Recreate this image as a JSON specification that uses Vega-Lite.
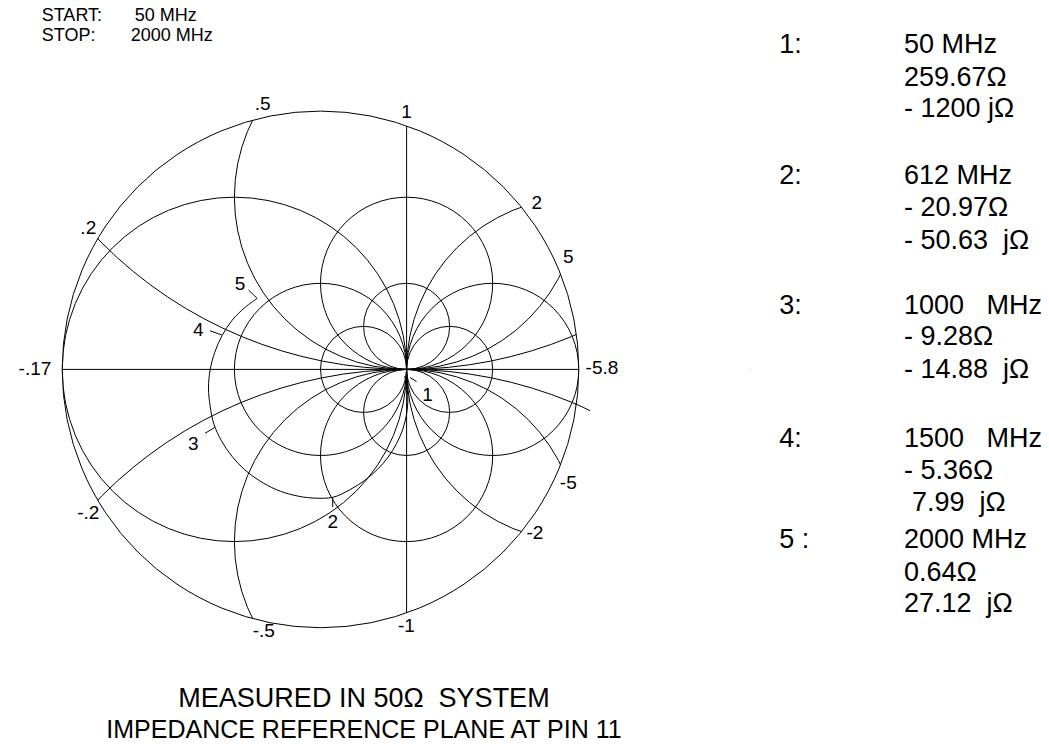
{
  "$schema": "https://vega.github.io/schema/vega-lite/v6.json",
  "width": 1049,
  "height": 744,
  "padding": 0,
  "autosize": {"type": "none"},
  "config": {"view": {"stroke": null}, "font": "Liberation Sans"},
  "datasets": {
    "grid": [
      {"cx": 0.5, "cy": 0, "r": 0.5},
      {"cx": 0, "cy": 0, "r": 1},
      {"cx": -1, "cy": 0, "r": 2},
      {"cx": 1.5, "cy": 0, "r": 0.5},
      {"cx": 2, "cy": 0, "r": 1},
      {"cx": 3, "cy": 0, "r": 2},
      {"cx": 1, "cy": 0.5, "r": 0.5},
      {"cx": 1, "cy": 1, "r": 1},
      {"cx": 1, "cy": 2, "r": 2},
      {"cx": 1, "cy": 5, "r": 5},
      {"cx": 1, "cy": -0.5, "r": 0.5},
      {"cx": 1, "cy": -1, "r": 1},
      {"cx": 1, "cy": -2, "r": 2},
      {"cx": 1, "cy": -5, "r": 5}
    ],
    "axes": [
      {"x1": -3, "y1": 0, "x2": 3, "y2": 0},
      {"x1": 1, "y1": -2.828, "x2": 1, "y2": 2.828}
    ],
    "trace": [
      {"seq": 0, "x": 0.977, "y": -0.077},
      {"seq": 1, "x": 1.007, "y": -0.223},
      {"seq": 2, "x": 1.014, "y": -0.378},
      {"seq": 3, "x": 0.996, "y": -0.540},
      {"seq": 4, "x": 0.953, "y": -0.703},
      {"seq": 5, "x": 0.882, "y": -0.864},
      {"seq": 6, "x": 0.785, "y": -1.019},
      {"seq": 7, "x": 0.661, "y": -1.162},
      {"seq": 8, "x": 0.512, "y": -1.290},
      {"seq": 9, "x": 0.340, "y": -1.398},
      {"seq": 10, "x": 0.148, "y": -1.484},
      {"seq": 11, "x": -0.087, "y": -1.494},
      {"seq": 12, "x": -0.307, "y": -1.462},
      {"seq": 13, "x": -0.516, "y": -1.395},
      {"seq": 14, "x": -0.708, "y": -1.293},
      {"seq": 15, "x": -0.883, "y": -1.164},
      {"seq": 16, "x": -1.030, "y": -1.007},
      {"seq": 17, "x": -1.150, "y": -0.830},
      {"seq": 18, "x": -1.238, "y": -0.635},
      {"seq": 19, "x": -1.282, "y": -0.426},
      {"seq": 20, "x": -1.301, "y": -0.216},
      {"seq": 21, "x": -1.282, "y": -0.006},
      {"seq": 22, "x": -1.228, "y": 0.199},
      {"seq": 23, "x": -1.143, "y": 0.394},
      {"seq": 24, "x": -1.026, "y": 0.571},
      {"seq": 25, "x": -0.875, "y": 0.722},
      {"seq": 26, "x": -0.736, "y": 0.823}
    ],
    "ext": [
      {"seq": 0, "x": 2.96, "y": -0.40},
      {"seq": 1, "x": 3.05, "y": -0.44},
      {"seq": 2, "x": 3.13, "y": -0.48}
    ],
    "ticks": [
      {"x1": 1.039, "y1": -0.094, "x2": 1.115, "y2": -0.141},
      {"x1": 0.142, "y1": -1.488, "x2": 0.142, "y2": -1.598},
      {"x1": -1.225, "y1": -0.672, "x2": -1.341, "y2": -0.742},
      {"x1": -1.148, "y1": 0.400, "x2": -1.283, "y2": 0.449},
      {"x1": -0.737, "y1": 0.826, "x2": -0.836, "y2": 0.922}
    ],
    "labels": [
      {"x": -0.671, "y": 3.082, "t": ".5"},
      {"x": 0.999, "y": 2.993, "t": "1"},
      {"x": -2.697, "y": 1.639, "t": ".2"},
      {"x": 2.511, "y": 1.929, "t": "2"},
      {"x": 2.878, "y": 1.309, "t": "5"},
      {"x": 3.269, "y": 0.013, "t": "-5.8"},
      {"x": -3.316, "y": 0.005, "t": "-.17"},
      {"x": -2.697, "y": -1.664, "t": "-.2"},
      {"x": -0.659, "y": -3.040, "t": "-.5"},
      {"x": 0.997, "y": -2.984, "t": "-1"},
      {"x": 2.491, "y": -1.904, "t": "-2"},
      {"x": 2.878, "y": -1.316, "t": "-5"},
      {"x": 1.243, "y": -0.297, "t": "1"},
      {"x": 0.142, "y": -1.772, "t": "2"},
      {"x": -1.477, "y": -0.866, "t": "3"},
      {"x": -1.419, "y": 0.458, "t": "4"},
      {"x": -0.935, "y": 0.992, "t": "5"}
    ],
    "side": [
      {"x": 5.329, "y": 3.669, "t": "1:"},
      {"x": 6.777, "y": 3.669, "t": "50 MHz"},
      {"x": 6.777, "y": 3.286, "t": "259.67Ω"},
      {"x": 6.777, "y": 2.926, "t": "- 1200 jΩ"},
      {"x": 5.329, "y": 2.153, "t": "2:"},
      {"x": 6.777, "y": 2.153, "t": "612 MHz"},
      {"x": 6.777, "y": 1.776, "t": "- 20.97Ω"},
      {"x": 6.777, "y": 1.393, "t": "- 50.63\u00a0\u00a0jΩ"},
      {"x": 5.329, "y": 0.643, "t": "3:"},
      {"x": 6.777, "y": 0.643, "t": "1000\u00a0\u00a0\u00a0MHz"},
      {"x": 6.777, "y": 0.278, "t": "- 9.28Ω"},
      {"x": 6.777, "y": -0.100, "t": "- 14.88\u00a0\u00a0jΩ"},
      {"x": 5.329, "y": -0.901, "t": "4:"},
      {"x": 6.777, "y": -0.901, "t": "1500\u00a0\u00a0\u00a0MHz"},
      {"x": 6.777, "y": -1.273, "t": "- 5.36Ω"},
      {"x": 6.870, "y": -1.645, "t": "7.99\u00a0\u00a0jΩ"},
      {"x": 5.329, "y": -2.080, "t": "5 :"},
      {"x": 6.777, "y": -2.080, "t": "2000 MHz"},
      {"x": 6.777, "y": -2.452, "t": "0.64Ω"},
      {"x": 6.777, "y": -2.823, "t": "27.12\u00a0\u00a0jΩ"}
    ],
    "head": [
      {"x": -3.238, "y": 4.050, "t": "START:"},
      {"x": -2.158, "y": 4.050, "t": "50 MHz"},
      {"x": -3.238, "y": 3.814, "t": "STOP:"},
      {"x": -2.204, "y": 3.814, "t": "2000 MHz"}
    ],
    "foot1": [
      {"x": 0.505, "y": -3.921, "t": "MEASURED IN 50Ω\u00a0\u00a0SYSTEM"}
    ],
    "foot2": [
      {"x": 0.505, "y": -4.281, "t": "IMPEDANCE REFERENCE PLANE AT PIN 11"}
    ]
  },
  "layer": [
    {
      "data": {"name": "grid"},
      "mark": {"type": "point", "shape": "circle", "filled": false, "stroke": "black", "strokeWidth": 1, "opacity": 1, "clip": true},
      "encoding": {
        "x": {"field": "cx", "type": "quantitative", "scale": {"domain": [-3.72242, 8.46109], "nice": false, "zero": false}, "axis": null},
        "y": {"field": "cy", "type": "quantitative", "scale": {"domain": [-4.35075, 4.29036], "nice": false, "zero": false}, "axis": null},
        "size": {"field": "r", "type": "quantitative", "scale": {"type": "pow", "exponent": 2, "domain": [0, 5], "range": [0, 741321]}, "legend": null}
      }
    },
    {
      "data": {"name": "axes"},
      "mark": {"type": "rule", "stroke": "black", "strokeWidth": 1},
      "encoding": {
        "x": {"field": "x1", "type": "quantitative"},
        "y": {"field": "y1", "type": "quantitative"},
        "x2": {"field": "x2"},
        "y2": {"field": "y2"}
      }
    },
    {
      "data": {"name": "trace"},
      "mark": {"type": "line", "interpolate": "catmull-rom", "stroke": "black", "strokeWidth": 1},
      "encoding": {
        "x": {"field": "x", "type": "quantitative"},
        "y": {"field": "y", "type": "quantitative"},
        "order": {"field": "seq", "type": "quantitative"}
      }
    },
    {
      "data": {"values": [{"cx": 0, "cy": 0}]},
      "mark": {"type": "point", "shape": "circle", "filled": false, "stroke": "white", "strokeWidth": 700, "size": 1480116, "opacity": 1, "clip": true},
      "encoding": {
        "x": {"field": "cx", "type": "quantitative"},
        "y": {"field": "cy", "type": "quantitative"}
      }
    },
    {
      "data": {"values": [{"cx": 0, "cy": 0, "r": 3}]},
      "mark": {"type": "point", "shape": "circle", "filled": false, "stroke": "black", "strokeWidth": 1, "opacity": 1, "clip": true},
      "encoding": {
        "x": {"field": "cx", "type": "quantitative"},
        "y": {"field": "cy", "type": "quantitative"},
        "size": {"field": "r", "type": "quantitative", "legend": null}
      }
    },
    {
      "data": {"name": "ext"},
      "mark": {"type": "line", "stroke": "black", "strokeWidth": 1},
      "encoding": {
        "x": {"field": "x", "type": "quantitative"},
        "y": {"field": "y", "type": "quantitative"},
        "order": {"field": "seq", "type": "quantitative"}
      }
    },
    {
      "data": {"name": "ticks"},
      "mark": {"type": "rule", "stroke": "black", "strokeWidth": 1},
      "encoding": {
        "x": {"field": "x1", "type": "quantitative"},
        "y": {"field": "y1", "type": "quantitative"},
        "x2": {"field": "x2"},
        "y2": {"field": "y2"}
      }
    },
    {
      "data": {"name": "labels"},
      "mark": {"type": "text", "align": "center", "baseline": "middle", "fontSize": 19, "font": "Liberation Sans", "color": "black"},
      "encoding": {
        "x": {"field": "x", "type": "quantitative"},
        "y": {"field": "y", "type": "quantitative"},
        "text": {"field": "t"}
      }
    },
    {
      "data": {"name": "side"},
      "mark": {"type": "text", "align": "left", "baseline": "alphabetic", "fontSize": 27, "font": "Liberation Sans", "color": "black"},
      "encoding": {
        "x": {"field": "x", "type": "quantitative"},
        "y": {"field": "y", "type": "quantitative"},
        "text": {"field": "t"}
      }
    },
    {
      "data": {"name": "head"},
      "mark": {"type": "text", "align": "left", "baseline": "alphabetic", "fontSize": 18, "font": "Liberation Sans", "color": "black"},
      "encoding": {
        "x": {"field": "x", "type": "quantitative"},
        "y": {"field": "y", "type": "quantitative"},
        "text": {"field": "t"}
      }
    },
    {
      "data": {"name": "foot1"},
      "mark": {"type": "text", "align": "center", "baseline": "alphabetic", "fontSize": 27, "font": "Liberation Sans", "color": "black"},
      "encoding": {
        "x": {"field": "x", "type": "quantitative"},
        "y": {"field": "y", "type": "quantitative"},
        "text": {"field": "t"}
      }
    },
    {
      "data": {"name": "foot2"},
      "mark": {"type": "text", "align": "center", "baseline": "alphabetic", "fontSize": 25, "font": "Liberation Sans", "color": "black"},
      "encoding": {
        "x": {"field": "x", "type": "quantitative"},
        "y": {"field": "y", "type": "quantitative"},
        "text": {"field": "t"}
      }
    }
  ]
}
